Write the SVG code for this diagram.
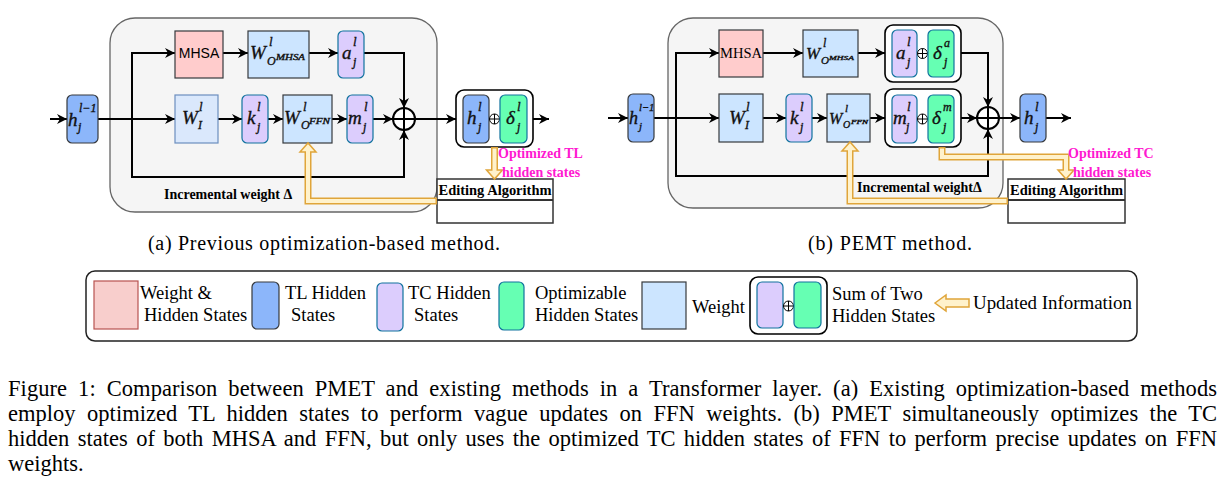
<svg xmlns="http://www.w3.org/2000/svg" width="1223" height="486" viewBox="0 0 1223 486">
<defs>
<marker id="ah" markerWidth="10" markerHeight="10" refX="10" refY="5" orient="auto" markerUnits="userSpaceOnUse"><path d="M0,0 L10,5 L0,10 L3,5 Z" fill="#000"/></marker>
<style>
.panel{fill:#f5f5f5;stroke:#666;stroke-width:1.3}
.conn{fill:none;stroke:#000;stroke-width:2;marker-end:url(#ah)}
.line{fill:none;stroke:#000;stroke-width:2}
.mhsa{fill:#ffcccc;stroke:#36393d;stroke-width:1.2}
.w{fill:#cce5ff;stroke:#36393d;stroke-width:1.2}
.wi{fill:#dae8fc;stroke:#6c8ebf;stroke-width:1.2}
.tl{fill:#8cb6fa;stroke:#36393d;stroke-width:1.2}
.tc{fill:#dccdfd;stroke:#10739e;stroke-width:1.2}
.op{fill:#66ffb3;stroke:#10739e;stroke-width:1.2}
.grp{fill:#fff;stroke:#000;stroke-width:1.6}
.big{fill:#fff;stroke:#000;stroke-width:2}
.sm{fill:#fff;stroke:#000;stroke-width:1}
.m{font-family:"Liberation Serif","DejaVu Serif",serif;font-style:italic;fill:#111;stroke:#111;stroke-width:0.35}
.t{font-family:"Liberation Serif","DejaVu Serif",serif;fill:#000}
.b{font-family:"Liberation Serif","DejaVu Serif",serif;font-weight:bold;fill:#000}
.pk{font-family:"Liberation Serif","DejaVu Serif",serif;font-weight:bold;font-size:14px;fill:#ff19d1}
.ob{fill:none;stroke:#e0a53a;stroke-width:7}
.oi{fill:none;stroke:#fff2cc;stroke-width:4}
.oh{fill:#fff2cc;stroke:#e0a53a;stroke-width:1.5}
.ea{fill:#fff;stroke:#333;stroke-width:1.5}
</style>
</defs>

<!-- ===== Left diagram (a) ===== -->
<g id="panel-a"><rect class="panel" x="110" y="18" width="327" height="194" rx="25"/></g>
<g id="incr-a"><text class="b" x="164" y="199" font-size="14">Incremental weight Δ</text></g>

<g id="conn-a">
<path class="conn" d="M50,119 L67,119"/>
<path class="conn" d="M98,119 L175,119"/>
<path class="conn" d="M132,119 V53 H175"/>
<path class="conn" d="M132,119 V177 H404 V130"/>
<path class="conn" d="M223,53 L248,53"/>
<path class="conn" d="M309,53 L338,53"/>
<path class="conn" d="M364,53 H404 V108"/>
<path class="conn" d="M218,119 L242,119"/>
<path class="conn" d="M268,119 L283,119"/>
<path class="conn" d="M332,119 L347,119"/>
<path class="conn" d="M373,119 L393,119"/>
<path class="conn" d="M415,119 L456,119"/>
<path class="conn" d="M533,119 L549,119"/>
</g>

<g id="h-in-a"><rect class="tl" x="67" y="95" width="31" height="48" rx="5"/>
<text class="m" x="68" y="126" font-size="19">h</text><text class="m" x="79" y="112" font-size="12">l−1</text><text class="m" x="78" y="131" font-size="12">j</text></g>

<g id="mhsa-a"><rect class="mhsa" x="175" y="31" width="48" height="47"/>
<text x="199" y="58" font-size="14" text-anchor="middle" font-family="Liberation Sans, Arial, sans-serif">MHSA</text></g>

<g id="wo-mhsa-a"><rect class="w" x="248" y="31" width="61" height="47"/>
<text class="m" x="250" y="59" font-size="19">W</text><text class="m" x="269" y="46" font-size="13">l</text><text class="m" x="267" y="65" font-size="12">O</text><text class="m" x="276" y="60" font-size="8" textLength="29" lengthAdjust="spacingAndGlyphs">MHSA</text></g>

<g id="a-a"><rect class="tc" x="338" y="31" width="26" height="47" rx="5"/>
<text class="m" x="342" y="59" font-size="19">a</text><text class="m" x="353" y="46" font-size="13">l</text><text class="m" x="353" y="66" font-size="12">j</text></g>

<g id="wi-a"><rect class="wi" x="175" y="95" width="43" height="48"/>
<text class="m" x="182" y="124" font-size="19">W</text><text class="m" x="199" y="111" font-size="13">l</text><text class="m" x="198" y="129" font-size="12">I</text></g>

<g id="k-a"><rect class="tc" x="242" y="95" width="26" height="48" rx="5"/>
<text class="m" x="247" y="124" font-size="19">k</text><text class="m" x="257" y="111" font-size="13">l</text><text class="m" x="257" y="131" font-size="12">j</text></g>

<g id="wo-ffn-a"><rect class="w" x="283" y="95" width="49" height="48"/>
<text class="m" x="284" y="124" font-size="19">W</text><text class="m" x="303" y="111" font-size="13">l</text><text class="m" x="301" y="129" font-size="12">O</text><text class="m" x="309" y="124" font-size="8" textLength="21" lengthAdjust="spacingAndGlyphs">FFN</text></g>

<g id="m-a"><rect class="tc" x="347" y="95" width="26" height="48" rx="5"/>
<text class="m" x="348" y="124" font-size="19">m</text><text class="m" x="364" y="111" font-size="13">l</text><text class="m" x="363" y="131" font-size="12">j</text></g>

<g id="sum-a"><circle class="big" cx="404" cy="119" r="11"/><path class="line" d="M393,119 H415 M404,108 V130"/></g>

<g id="out-a"><rect class="grp" x="456" y="90" width="77" height="57" rx="8"/>
<rect class="tl" x="463" y="95" width="26" height="48" rx="5"/>
<text class="m" x="467" y="124" font-size="19">h</text><text class="m" x="478" y="111" font-size="13">l</text><text class="m" x="478" y="131" font-size="12">j</text>
<circle class="sm" cx="494.5" cy="119" r="5"/><path d="M489.5,119 H499.5 M494.5,114 V124" stroke="#000" stroke-width="1"/>
<rect class="op" x="500" y="95" width="27" height="48" rx="5"/>
<text class="m" x="506" y="124" font-size="19">δ</text><text class="m" x="517" y="111" font-size="13">l</text><text class="m" x="517" y="131" font-size="12">j</text></g>

<g id="ea-a"><rect class="ea" x="437" y="179" width="116" height="44"/><path d="M437,200 H553" stroke="#333" stroke-width="2"/>
<text class="b" x="495" y="195" font-size="14.5" text-anchor="middle" textLength="113" lengthAdjust="spacingAndGlyphs">Editing Algorithm</text></g>

<g id="upd-a">
<path class="ob" d="M494.5,147 V171"/><polygon class="oh" points="486.5,170 502.5,170 494.5,179"/><path class="oi" d="M494.5,148.5 V172"/>
<path class="ob" d="M437,201 H308 V151"/><polygon class="oh" points="300,152 316,152 308,143"/><path class="oi" d="M435.5,201 H308 V150"/>
</g>
<g id="lbl-a"><text class="pk" x="498" y="158">Optimized TL</text><text class="pk" x="502" y="177">hidden states</text></g>

<text class="t" x="148" y="250" font-size="20" textLength="352" lengthAdjust="spacing">(a) Previous optimization-based method.</text>

<!-- ===== Right diagram (b) ===== -->
<g id="panel-b"><rect class="panel" x="668" y="18" width="335" height="190" rx="25"/></g>
<g id="incr-b"><text class="b" x="857" y="192" font-size="14">Incremental weightΔ</text></g>

<g id="conn-b">
<path class="conn" d="M608,118 L628,118"/>
<path class="conn" d="M654,118 L719,118"/>
<path class="conn" d="M676,118 V53 H719"/>
<path class="conn" d="M676,118 V176 H988 V129"/>
<path class="conn" d="M763,53 L803,53"/>
<path class="conn" d="M858,53 L885,53"/>
<path class="conn" d="M961,53 H988 V107"/>
<path class="conn" d="M763,118 L786,118"/>
<path class="conn" d="M812,118 L827,118"/>
<path class="conn" d="M870,118 L885,118"/>
<path class="conn" d="M961,118 L977,118"/>
<path class="conn" d="M999,118 L1020,118"/>
<path class="conn" d="M1046,118 L1071,118"/>
</g>

<g id="h-in-b"><rect class="tl" x="628" y="94" width="26" height="48" rx="5"/>
<text class="m" x="629" y="124" font-size="18">h</text><text class="m" x="639" y="111" font-size="10.5">l−1</text><text class="m" x="639" y="130" font-size="11">j</text></g>

<g id="mhsa-b"><rect class="mhsa" x="719" y="30" width="44" height="47"/>
<text class="t" x="741" y="58" font-size="15" text-anchor="middle" textLength="42" lengthAdjust="spacingAndGlyphs">MHSA</text></g>

<g id="wo-mhsa-b"><rect class="w" x="803" y="30" width="55" height="47"/>
<text class="m" x="806" y="59" font-size="17">W</text><text class="m" x="823" y="47" font-size="12">l</text><text class="m" x="821" y="64" font-size="11">O</text><text class="m" x="829" y="60" font-size="6.5" textLength="25" lengthAdjust="spacingAndGlyphs">MHSA</text></g>

<g id="am-grp-b"><rect class="grp" x="885" y="25" width="76" height="57" rx="8"/>
<rect class="tc" x="892" y="30" width="25" height="47" rx="5"/>
<text class="m" x="896" y="59" font-size="19">a</text><text class="m" x="907" y="46" font-size="13">l</text><text class="m" x="907" y="66" font-size="12">j</text>
<circle class="sm" cx="922.5" cy="53.5" r="5"/><path d="M917.5,53.5 H927.5 M922.5,48.5 V58.5" stroke="#000" stroke-width="1"/>
<rect class="op" x="928" y="30" width="26" height="47" rx="5"/>
<text class="m" x="933" y="59" font-size="19">δ</text><text class="m" x="944" y="47" font-size="12">a</text><text class="m" x="944" y="66" font-size="12">j</text></g>

<g id="wi-b"><rect class="w" x="719" y="94" width="44" height="48"/>
<text class="m" x="729" y="124" font-size="19">W</text><text class="m" x="746" y="111" font-size="13">l</text><text class="m" x="745" y="129" font-size="12">I</text></g>

<g id="k-b"><rect class="tc" x="786" y="94" width="26" height="48" rx="5"/>
<text class="m" x="790" y="124" font-size="19">k</text><text class="m" x="800" y="111" font-size="13">l</text><text class="m" x="800" y="131" font-size="12">j</text></g>

<g id="wo-ffn-b"><rect class="w" x="827" y="94" width="43" height="48"/>
<text class="m" x="829" y="124" font-size="16">W</text><text class="m" x="845" y="112" font-size="11">l</text><text class="m" x="843" y="128" font-size="10">O</text><text class="m" x="851" y="124" font-size="6" textLength="17" lengthAdjust="spacingAndGlyphs">FFN</text></g>

<g id="md-grp-b"><rect class="grp" x="885" y="89" width="76" height="58" rx="8"/>
<rect class="tc" x="892" y="95" width="25" height="48" rx="5"/>
<text class="m" x="893" y="124" font-size="19">m</text><text class="m" x="907" y="111" font-size="13">l</text><text class="m" x="906" y="131" font-size="12">j</text>
<circle class="sm" cx="922.5" cy="119" r="5"/><path d="M917.5,119 H927.5 M922.5,114 V124" stroke="#000" stroke-width="1"/>
<rect class="op" x="928" y="95" width="26" height="48" rx="5"/>
<text class="m" x="932" y="124" font-size="19">δ</text><text class="m" x="943" y="111" font-size="12">m</text><text class="m" x="943" y="131" font-size="12">j</text></g>

<g id="sum-b"><circle class="big" cx="988" cy="118" r="11"/><path class="line" d="M977,118 H999 M988,107 V129"/></g>

<g id="h-out-b"><rect class="tl" x="1020" y="94" width="26" height="48" rx="5"/>
<text class="m" x="1024" y="124" font-size="19">h</text><text class="m" x="1035" y="111" font-size="13">l</text><text class="m" x="1035" y="131" font-size="12">j</text></g>

<g id="ea-b"><rect class="ea" x="1008" y="179" width="117" height="44"/><path d="M1008,200 H1125" stroke="#333" stroke-width="2"/>
<text class="b" x="1066.5" y="195" font-size="14.5" text-anchor="middle" textLength="113" lengthAdjust="spacingAndGlyphs">Editing Algorithm</text></g>

<g id="upd-b">
<path class="ob" d="M942,147 V157 H1066 V171"/><polygon class="oh" points="1058,170 1074,170 1066,179"/><path class="oi" d="M942,148.5 V157 H1066 V172"/>
<path class="ob" d="M1008,201 H850 V151"/><polygon class="oh" points="842,151 858,151 850,142"/><path class="oi" d="M1006.5,201 H850 V149"/>
</g>
<g id="lbl-b"><text class="pk" x="1068" y="158">Optimized TC</text><text class="pk" x="1073" y="177">hidden states</text></g>

<text class="t" x="808" y="250" font-size="20" textLength="164" lengthAdjust="spacing">(b) PEMT method.</text>

<!-- ===== Legend ===== -->
<g id="legend">
<rect x="86" y="271" width="1051" height="70" rx="9" fill="#fff" stroke="#222" stroke-width="1.5"/>
<rect x="94" y="281" width="44" height="48" fill="#f8cecc" stroke="#b85450" stroke-width="1.2"/>
<text class="t" x="140" y="299" font-size="18.5">Weight &amp;</text>
<text class="t" x="144" y="321" font-size="18.5">Hidden States</text>
<rect class="tl" x="252" y="282" width="27" height="47" rx="5"/>
<text class="t" x="285" y="299" font-size="18.5">TL Hidden</text>
<text class="t" x="291" y="321" font-size="18.5">States</text>
<rect class="tc" x="377" y="283" width="26" height="48" rx="5"/>
<text class="t" x="408" y="299" font-size="18.5">TC Hidden</text>
<text class="t" x="414" y="321" font-size="18.5">States</text>
<rect class="op" x="499" y="282" width="25" height="48" rx="5"/>
<text class="t" x="535" y="299" font-size="18.5">Optimizable</text>
<text class="t" x="535" y="321" font-size="18.5">Hidden States</text>
<rect x="642" y="282" width="44" height="47" fill="#cce5ff" stroke="#36393d" stroke-width="1.2"/>
<text class="t" x="692" y="313" font-size="18.5">Weight</text>
<rect class="grp" x="750" y="277" width="77" height="57" rx="8"/>
<rect class="tc" x="757" y="282" width="26" height="46" rx="5"/>
<circle class="sm" cx="788.5" cy="306" r="5"/><path d="M783.5,306 H793.5 M788.5,301 V311" stroke="#000" stroke-width="1"/>
<rect class="op" x="794" y="282" width="27" height="46" rx="5"/>
<text class="t" x="832" y="300" font-size="18.5">Sum of Two</text>
<text class="t" x="832" y="322" font-size="18.5">Hidden States</text>
<polygon class="oh" points="935,303 946,295 946,299 969,299 969,307 946,307 946,311"/>
<text class="t" x="973" y="309" font-size="18.5" textLength="159" lengthAdjust="spacingAndGlyphs">Updated Information</text>
</g>

<!-- ===== Figure caption ===== -->
<g id="caption">
<text class="t" x="8" y="396" font-size="22.5" word-spacing="5.3" textLength="1209" lengthAdjust="spacing">Figure 1: Comparison between PMET and existing methods in a Transformer layer. (a) Existing optimization-based methods</text>
<text class="t" x="8" y="421" font-size="22.5" word-spacing="5.8" textLength="1209" lengthAdjust="spacing">employ optimized TL hidden states to perform vague updates on FFN weights. (b) PMET simultaneously optimizes the TC</text>
<text class="t" x="8" y="446" font-size="22.5" word-spacing="2.7" textLength="1209" lengthAdjust="spacing">hidden states of both MHSA and FFN, but only uses the optimized TC hidden states of FFN to perform precise updates on FFN</text>
<text class="t" x="8" y="471" font-size="22.5">weights.</text>
</g>
</svg>
